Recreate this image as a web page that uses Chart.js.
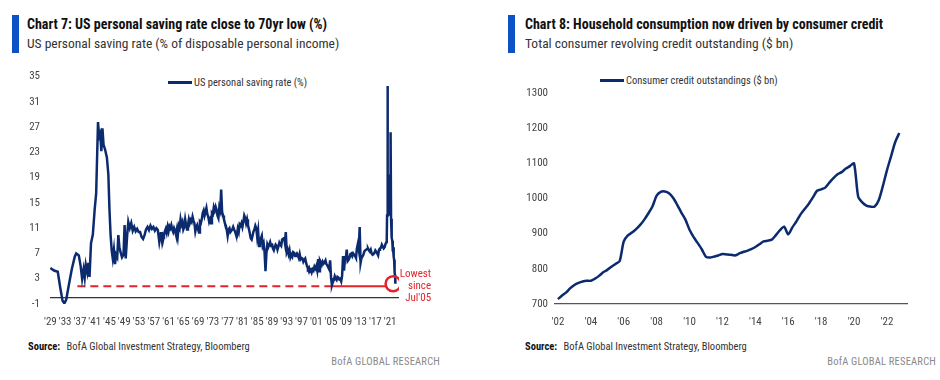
<!DOCTYPE html>
<html>
<head>
<meta charset="utf-8">
<script src="https://cdn.jsdelivr.net/npm/chart.js@4.4.1/dist/chart.umd.min.js"></script>
<style>
  body { margin: 0; background: #fff; }
  #page { position: relative; width: 940px; height: 380px; overflow: hidden;
    font-family: "Liberation Sans Narrow", "Roboto Condensed", "DejaVu Sans Condensed", Roboto, sans-serif; color: #222; }
  .bar { position: absolute; width: 7px; height: 38px; top: 15px; background: #0b52c6; }
  .title { position: absolute; top: 16px; font-size: 14px; font-weight: bold; color: #111; white-space: nowrap; }
  .sub { position: absolute; top: 35px; font-size: 13.5px; color: #333; white-space: nowrap; }
  .legend { position: absolute; font-size: 10.5px; color: #333; white-space: nowrap; line-height: 12px; }
  .legend i { display: inline-block; width: 24px; height: 3px; background: #0c2a6e; vertical-align: middle; margin-right: 2px; position: relative; top: -1px; }
  .src { position: absolute; top: 340px; font-size: 10.5px; color: #333; white-space: nowrap; }
  .src b { color: #111; margin-right: 4px; }
  .brand { position: absolute; top: 355px; font-size: 10.5px; color: #8a8a8a; white-space: nowrap; letter-spacing: 0.2px; }
  canvas { position: absolute; top: 60px; }
</style>
</head>
<body>
<div id="page">
  <div class="bar" style="left:12px"></div>
  <div class="title" style="left:27px">Chart 7: US personal saving rate close to 70yr low (%)</div>
  <div class="sub" style="left:27px">US personal saving rate (% of disposable personal income)</div>
  <div class="legend" style="left:168px; top:77px"><i></i>US personal saving rate (%)</div>
  <canvas id="left" width="460" height="270" style="left:0"></canvas>
  <div class="src" style="left:28px"><b>Source:</b> BofA Global Investment Strategy, Bloomberg</div>
  <div class="brand" style="right:500px">BofA GLOBAL RESEARCH</div>

  <div class="bar" style="left:508px"></div>
  <div class="title" style="left:525px">Chart 8: Household consumption now driven by consumer credit</div>
  <div class="sub" style="left:525px">Total consumer revolving credit outstanding ($ bn)</div>
  <div class="legend" style="left:600px; top:75px"><i></i>Consumer credit outstandings ($ bn)</div>
  <canvas id="right" width="470" height="270" style="left:470px"></canvas>
  <div class="src" style="left:525px"><b>Source:</b> BofA Global Investment Strategy, Bloomberg</div>
  <div class="brand" style="right:4px">BofA GLOBAL RESEARCH</div>
</div>
<script>
const FONT = '"Liberation Sans Narrow", "Roboto Condensed", "DejaVu Sans Condensed", Roboto, sans-serif';
const NAVY = '#0c2a6e';
const RED = '#e3232b';

// Chart 7: saving rate, irregular points before 1959
const earlyYears = [1929.0, 1930.0, 1931.0, 1931.7, 1932.3, 1932.8, 1933.3, 1934.0, 1934.8, 1935.6,
  1936.0, 1936.7, 1937.2, 1937.6, 1938.0, 1938.3, 1938.6, 1939.0, 1939.3, 1939.6,
  1940.0, 1940.5, 1941.0, 1941.4, 1941.9, 1942.2, 1942.5, 1942.8, 1943.1, 1943.4,
  1943.8, 1944.3, 1944.7, 1945.0, 1945.3, 1945.6, 1945.9, 1946.2, 1946.5, 1946.8,
  1947.1, 1947.4, 1947.7, 1948.0, 1948.4, 1948.8, 1949.1, 1949.4, 1949.8, 1950.1,
  1950.5, 1950.9, 1951.3, 1951.7, 1952.1, 1952.5, 1952.9, 1953.3, 1953.7, 1954.1,
  1954.5, 1954.9, 1955.3, 1955.7, 1956.1, 1956.5, 1956.9, 1957.3, 1957.7, 1958.1,
  1958.5, 1958.9];
const earlyRates = [4.7, 4.3, 4.1, 1.5, -0.5, -0.9, -0.3, 2.0, 4.5, 6.5,
  7.0, 6.7, 5.0, 3.0, 4.5, 3.2, 5.2, 4.0, 5.5, 3.3,
  8.6, 10.0, 14.0, 16.5, 27.8, 25.5, 26.0, 23.2, 26.8, 24.2,
  23.5, 22.2, 19.5, 14.0, 10.0, 7.5, 6.2, 7.6, 5.3, 6.8,
  6.4, 9.9, 8.0, 7.2, 6.4, 6.8, 11.5, 6.2, 9.9, 12.0,
  11.0, 11.8, 10.6, 11.2, 10.5, 10.9, 10.4, 10.4, 9.6, 9.3,
  9.9, 10.8, 11.2, 10.7, 11.4, 10.9, 11.2, 10.6, 11.0, 10.7,
  8.8, 10.2];
// quarterly from 1959 Q1 to 2019 Q4
const quarterlyStart = 1959;
const quarterlyRates = [
  10.2, 9.0, 10.0, 9.8,   10.5, 10.9, 10.3, 11.2,   10.5, 11.3, 11.0, 11.5,   10.8, 10.4, 11.0, 10.6,
  10.0, 10.8, 9.8, 11.4,  11.0, 12.4, 11.6, 12.0,   10.8, 11.2, 12.4, 11.5,   10.8, 11.5, 12.4, 11.8,
  12.3, 12.0, 12.8, 12.2, 11.8, 10.5, 11.2, 11.5,   10.8, 10.3, 12.0, 11.8,   12.4, 13.4, 13.8, 13.0,
  13.6, 14.2, 13.2, 12.8, 12.0, 12.4, 11.8, 13.4,   13.2, 14.3, 13.8, 14.4,   13.9, 13.0, 12.6, 14.3,
  13.8, 17.1, 13.6, 13.0, 12.4, 11.8, 11.4, 10.8,   9.8, 10.8, 11.0, 10.4,    10.6, 10.8, 11.2, 10.8,
  10.5, 10.0, 9.8, 10.9,  10.4, 11.6, 11.4, 11.8,   11.2, 12.0, 13.0, 12.6,   11.8, 12.4, 11.5, 10.9,
  10.2, 9.4, 9.2, 9.8,    10.5, 10.8, 11.4, 11.0,   9.6, 10.6, 8.2, 9.1,      9.4, 9.8, 8.2, 8.6,
  7.2, 4.2, 7.0, 8.4,     8.0, 8.4, 8.8, 8.2,       8.6, 7.8, 7.5, 8.0,       8.4, 8.2, 7.6, 8.1,
  8.7, 8.4, 8.2, 9.2,     9.3, 9.6, 8.7, 10.4,      7.2, 7.6, 6.9, 7.5,       6.4, 6.8, 6.5, 7.2,
  7.1, 6.6, 6.8, 7.0,     6.7, 6.3, 6.9, 6.1,       6.3, 6.2, 5.7, 6.0,       6.2, 5.5, 5.0, 4.6,
  4.8, 4.2, 4.4, 4.0,     4.5, 4.3, 4.9, 4.6,       5.0, 4.3, 6.1, 4.2,       5.9, 5.6, 5.2, 5.7,
  5.4, 5.6, 5.9, 5.3,     5.1, 4.8, 4.5, 5.9,       3.1, 2.0, 2.5, 2.8,       3.4, 3.0, 2.8, 3.3,
  3.2, 2.9, 3.0, 2.6,     3.5, 6.6, 4.3, 5.9,       6.2, 7.6, 5.8, 6.0,       6.3, 6.9, 7.0, 6.6,
  7.0, 6.8, 6.6, 6.3,     7.8, 8.5, 7.6, 11.2,      5.5, 6.3, 6.5, 6.8,       7.3, 7.5, 7.6, 7.7,
  7.8, 7.5, 7.3, 7.6,     7.0, 6.8, 6.9, 7.1,       7.5, 7.3, 7.0, 6.7,       7.6, 7.8, 7.9, 8.4,
  8.1, 7.8, 8.0, 8.5];
// monthly from Jan 2020
const monthlyStart = 2020;
const monthlyRates = [
  8.8, 9.2, 13.0, 33.5, 24.5, 19.0, 18.0, 14.5, 14.0, 13.5, 13.0, 13.5,
  19.5, 13.5, 26.2, 12.5, 10.5, 9.5, 9.5, 9.0, 7.5, 7.5, 7.5, 8.0,
  6.5, 6.0, 5.5, 4.0, 3.5, 2.2];

const leftYTicks = [-1, 3, 7, 11, 15, 19, 23, 27, 31, 35];
const leftXTicks = [1929, 1933, 1937, 1941, 1945, 1949, 1953, 1957, 1961, 1965, 1969, 1973,
  1977, 1981, 1985, 1989, 1993, 1997, 2001, 2005, 2009, 2013, 2017, 2021];

// "lowest since Jul'05" marker
const lowLevel = 1.8;
const lowDashFrom = 1936.3;
const lowSince = 2005.3;
const lowSolidTo = 2019.9;
const circleAt = { x: 2021.8, y: 2.2 };
const noteLines = ['Lowest', 'since', "Jul'05"];

// Chart 8: consumer credit, quarterly from 2002 Q1
const creditStart = 2002;
const creditValues = [
  714, 724, 733, 745,   754, 760, 764, 766,   766, 772, 780, 790,   797, 806, 814, 822,
  878, 895, 903, 913,   925, 940, 958, 978,   1008, 1019, 1020, 1015, 1002, 982, 960, 940,
  911, 890, 873, 855,   834, 832, 835, 838,   842, 841, 840, 838,   843, 848, 851, 856,
  862, 870, 878, 880,   883, 896, 910, 920,   898, 918, 935, 955,   970, 985, 1003, 1022,
  1026, 1031, 1045, 1058, 1069, 1075, 1085, 1092, 1100, 1006, 989, 980, 977, 977, 995, 1035,
  1080, 1120, 1160, 1186];
const rightYTicks = [700, 800, 900, 1000, 1100, 1200, 1300];
const rightXTicks = [2002, 2004, 2006, 2008, 2010, 2012, 2014, 2016, 2018, 2020, 2022];

function buildSavingPoints() {
  const pts = earlyYears.map((x, i) => ({ x, y: earlyRates[i] }));
  quarterlyRates.forEach((y, i) => pts.push({ x: quarterlyStart + i / 4, y }));
  monthlyRates.forEach((y, i) => pts.push({ x: monthlyStart + i / 12, y }));
  return pts;
}

function fmtYear(v) {
  return "'" + String(v).slice(2);
}

Chart.defaults.font.family = FONT;
Chart.defaults.color = '#444';
Chart.defaults.animation = false;

const zeroLine = {
  id: 'zeroLine',
  beforeDatasetsDraw(chart) {
    const { ctx, chartArea, scales } = chart;
    const y = scales.y.getPixelForValue(0);
    ctx.save();
    ctx.strokeStyle = '#333';
    ctx.lineWidth = 1.3;
    ctx.beginPath();
    ctx.moveTo(chartArea.left, y);
    ctx.lineTo(chartArea.right, y);
    ctx.stroke();
    ctx.restore();
  },
};

const lowNote = {
  id: 'lowNote',
  afterDatasetsDraw(chart) {
    const { ctx, scales } = chart;
    const cx = scales.x.getPixelForValue(circleAt.x);
    const cy = scales.y.getPixelForValue(circleAt.y);
    ctx.save();
    ctx.fillStyle = RED;
    ctx.font = '11px ' + FONT;
    ctx.textAlign = 'right';
    ctx.textBaseline = 'middle';
    noteLines.forEach((t, i) => ctx.fillText(t, cx + 38, cy - 10 + i * 12));
    ctx.restore();
  },
};

function tickOpts(fmt, padding) {
  return { font: { size: 11 }, color: '#444', padding, callback: fmt, autoSkip: false, maxRotation: 0 };
}

function axisOpts(min, max, ticks, extra) {
  return Object.assign({
    type: 'linear',
    min, max,
    grid: { display: false, drawTicks: false },
    border: { display: false },
    afterBuildTicks: (s) => { s.ticks = ticks.map((v) => ({ value: v })); },
  }, extra);
}

new Chart(document.getElementById('left'), {
  type: 'line',
  data: {
    datasets: [
      { data: buildSavingPoints(), borderColor: NAVY, borderWidth: 2.5, pointRadius: 0, tension: 0, order: 1 },
      { data: [{ x: lowDashFrom, y: lowLevel }, { x: lowSince, y: lowLevel }], borderColor: RED, borderWidth: 2,
        borderDash: [8, 5], pointRadius: 0, order: 2 },
      { data: [{ x: lowSince, y: lowLevel }, { x: lowSolidTo, y: lowLevel }], borderColor: RED, borderWidth: 2,
        pointRadius: 0, order: 2 },
      { data: [circleAt], borderColor: RED, backgroundColor: 'rgba(0,0,0,0)', pointRadius: 7.5,
        pointBorderWidth: 2.5, showLine: false, order: 0 },
    ],
  },
  options: {
    responsive: false,
    layout: { padding: { left: 0, right: 61, top: 12, bottom: 0 } },
    plugins: { legend: { display: false }, tooltip: { enabled: false } },
    scales: {
      x: axisOpts(1928.9, 2023.4, leftXTicks, {
        afterFit: (s) => { s.height = 26; },
        ticks: tickOpts((v) => fmtYear(v), 12),
      }),
      y: axisOpts(-1, 35, leftYTicks, {
        afterFit: (s) => { s.width = 50; },
        ticks: tickOpts((v) => String(v), 10),
      }),
    },
  },
  plugins: [zeroLine, lowNote],
});

new Chart(document.getElementById('right'), {
  type: 'line',
  data: {
    datasets: [{
      data: creditValues.map((y, i) => ({ x: creditStart + i / 4, y })),
      borderColor: NAVY, borderWidth: 2.5, pointRadius: 0, tension: 0.25,
    }],
  },
  options: {
    responsive: false,
    layout: { padding: { left: 0, right: 33, top: 33, bottom: 0 } },
    plugins: { legend: { display: false }, tooltip: { enabled: false } },
    scales: {
      x: axisOpts(2001.82, 2023.22, rightXTicks, {
        afterFit: (s) => { s.height = 26; },
        border: { display: true, color: '#555', width: 1.3 },
        ticks: tickOpts((v) => fmtYear(v), 12),
      }),
      y: axisOpts(700, 1300, rightYTicks, {
        afterFit: (s) => { s.width = 85; },
        ticks: tickOpts((v) => String(v), 7),
      }),
    },
  },
});
</script>
</body>
</html>
